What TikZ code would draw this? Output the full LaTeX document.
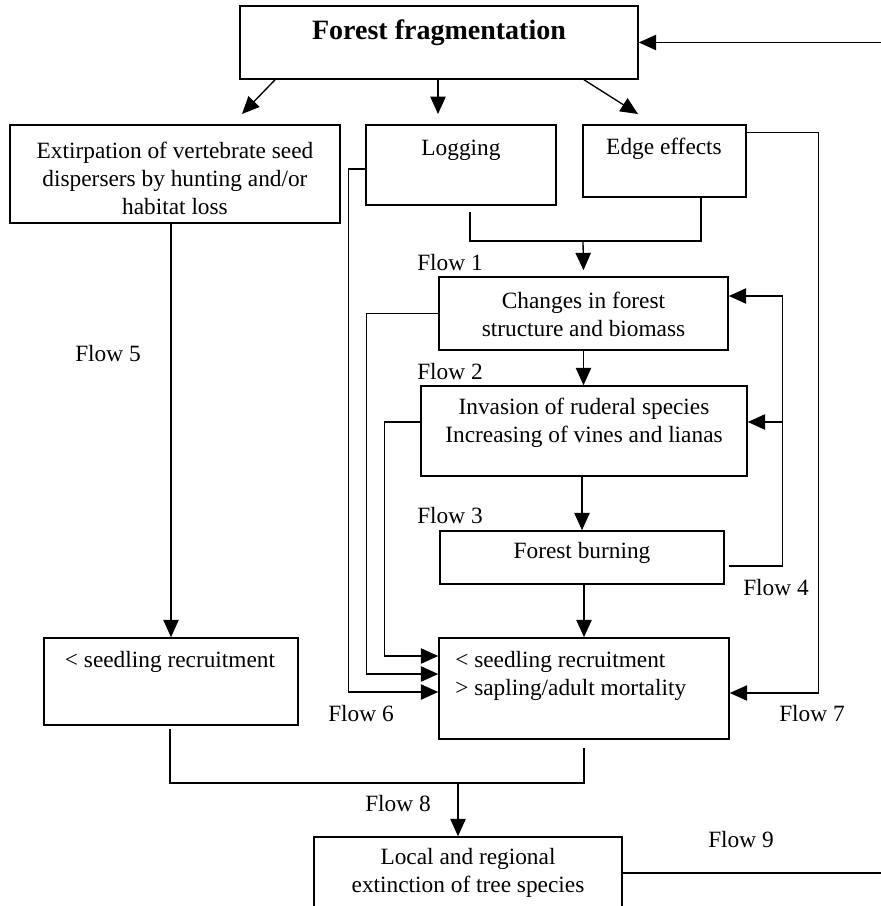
\documentclass[tikz,border=0pt]{standalone}
\usepackage{fontspec}
\setmainfont{Liberation Serif}
\usetikzlibrary{arrows.meta,calc}
\begin{document}
\begin{tikzpicture}[x=0.75pt,y=-0.75pt,
  box/.style={draw, line width=1.2pt, inner sep=0pt},
  ln/.style={line width=1pt},
  arr/.style={ln, -{Triangle[length=13pt,width=11.5pt]}},
  txt/.style={font=\fontsize{17.5}{21}\selectfont, inner sep=0pt, align=center},
  ttl/.style={font=\fontsize{21}{25}\selectfont\bfseries, inner sep=0pt}]
\clip (0,0) rectangle (881,906);
\fill[white] (0,0) rectangle (881,906);
% boxes
\node[box, minimum width=298.5pt, minimum height=54.75pt] (frag) at (439,42.5) {};
\node[box, minimum width=247.5pt, minimum height=73.5pt] (extir) at (175,174) {};
\node[box, minimum width=142.5pt, minimum height=60pt] (logging) at (461,165) {};
\node[box, minimum width=122.25pt, minimum height=54pt] (edge) at (664.5,161) {};
\node[box, minimum width=216.75pt, minimum height=54.75pt] (changes) at (583.5,313.5) {};
\node[box, minimum width=244.5pt, minimum height=67.5pt] (invasion) at (584,431) {};
\node[box, minimum width=213pt, minimum height=39.75pt] (burning) at (582,557.5) {};
\node[box, minimum width=217.5pt, minimum height=75.75pt] (seedR) at (584,688.5) {};
\node[box, minimum width=190.5pt, minimum height=65.25pt] (seedL) at (171,681.5) {};
\node[box, minimum width=231pt, minimum height=54pt] (extinct) at (468,873) {};
% texts
\node[ttl] (tfrag) at (439,33) {Forest fragmentation};
\node[txt] (textir) at (175,178) {Extirpation of vertebrate seed\\dispersers by hunting and/or\\habitat loss};
\node[txt] (tlog) at (461,150) {Logging};
\node[txt] (tedge) at (664,149) {Edge effects};
\node[txt] (tchg) at (583.5,314) {Changes in forest\\structure and biomass};
\node[txt] (tinv) at (584,422.5) {Invasion of ruderal species\\Increasing of vines and lianas};
\node[txt] (tburn) at (582,553) {Forest burning};
\node[txt, anchor=west, align=left] (tseedR) at (455,675.5) {< seedling recruitment\\> sapling/adult mortality};
\node[txt] (tseedL) at (170,662) {< seedling recruitment};
\node[txt] (text) at (468,873) {Local and regional\\extinction of tree species};
% flow labels
\node[txt] (f1) at (450,263) {Flow 1};
\node[txt] (f2) at (450,372) {Flow 2};
\node[txt] (f3) at (450,516) {Flow 3};
\node[txt] (f4) at (776,588) {Flow 4};
\node[txt] (f5) at (108,354) {Flow 5};
\node[txt] (f6) at (361,714) {Flow 6};
\node[txt] (f7) at (812,714) {Flow 7};
\node[txt] (f8) at (398,804) {Flow 8};
\node[txt] (f9) at (741,840) {Flow 9};
% coordinates
\coordinate (rin) at (881,42.5);
\coordinate (a1) at (242,114);
\coordinate (a2) at (438,114);
\coordinate (a3) at (638,114);
\coordinate (lb) at (470,212);
\coordinate (j1) at (583,241);
\coordinate (k) at (782,422);
\coordinate (j2) at (458,783);
\coordinate (rout) at (881,873);
% connectors
\draw[arr] (rin) -- (frag.east);
\draw[arr] (frag.south -| 275,0) -- (a1);
\draw[arr] (frag.south -| a2) -- (a2);
\draw[arr] (frag.south -| 584,0) -- (a3);
\draw[ln] (lb) |- (j1) -| (edge.south -| 701,0);
\draw[arr] (j1) -- ($(changes.north)+(0,-6)$);
\draw[arr] (changes.south) -- (changes.south |- invasion.north);
\draw[arr] (invasion.south -| burning.north) -- (burning.north);
\draw[arr] (burning.south -| seedR.north) -- (seedR.north);
\draw[arr] ($(logging.west)+(0,4)$) -- ++(-17,0) |- ($(seedR.west)+(0,3.5)$);
\draw[arr] (changes.west) -- ++(-72,0) |- ($(seedR.west)+(0,-14.5)$);
\draw[arr] ($(invasion.west)+(0,-9)$) -- ++(-36,0) |- ($(seedR.west)+(0,-32.5)$);
\draw[arr] ($(edge.north east)+(0,8)$) -- ++(72,0) |- ($(seedR.east)+(0,4.5)$);
\draw[arr] ($(burning.east)+(4,8.5)$) -- ++(54,0) |- ($(changes.east)+(0,-17.5)$);
\draw[arr] (k) -- ($(invasion.east)+(0,-9)$);
\draw[arr] (seedL.north |- extir.south) -- (seedL.north);
\draw[ln] ($(seedL.south)+(-1,3)$) |- (j2) -| ($(seedR.south)+(0,8)$);
\draw[arr] (j2) -- (j2 |- extinct.north);
\draw[ln] (extinct.east) -- (rout);
\end{tikzpicture}
\end{document}
